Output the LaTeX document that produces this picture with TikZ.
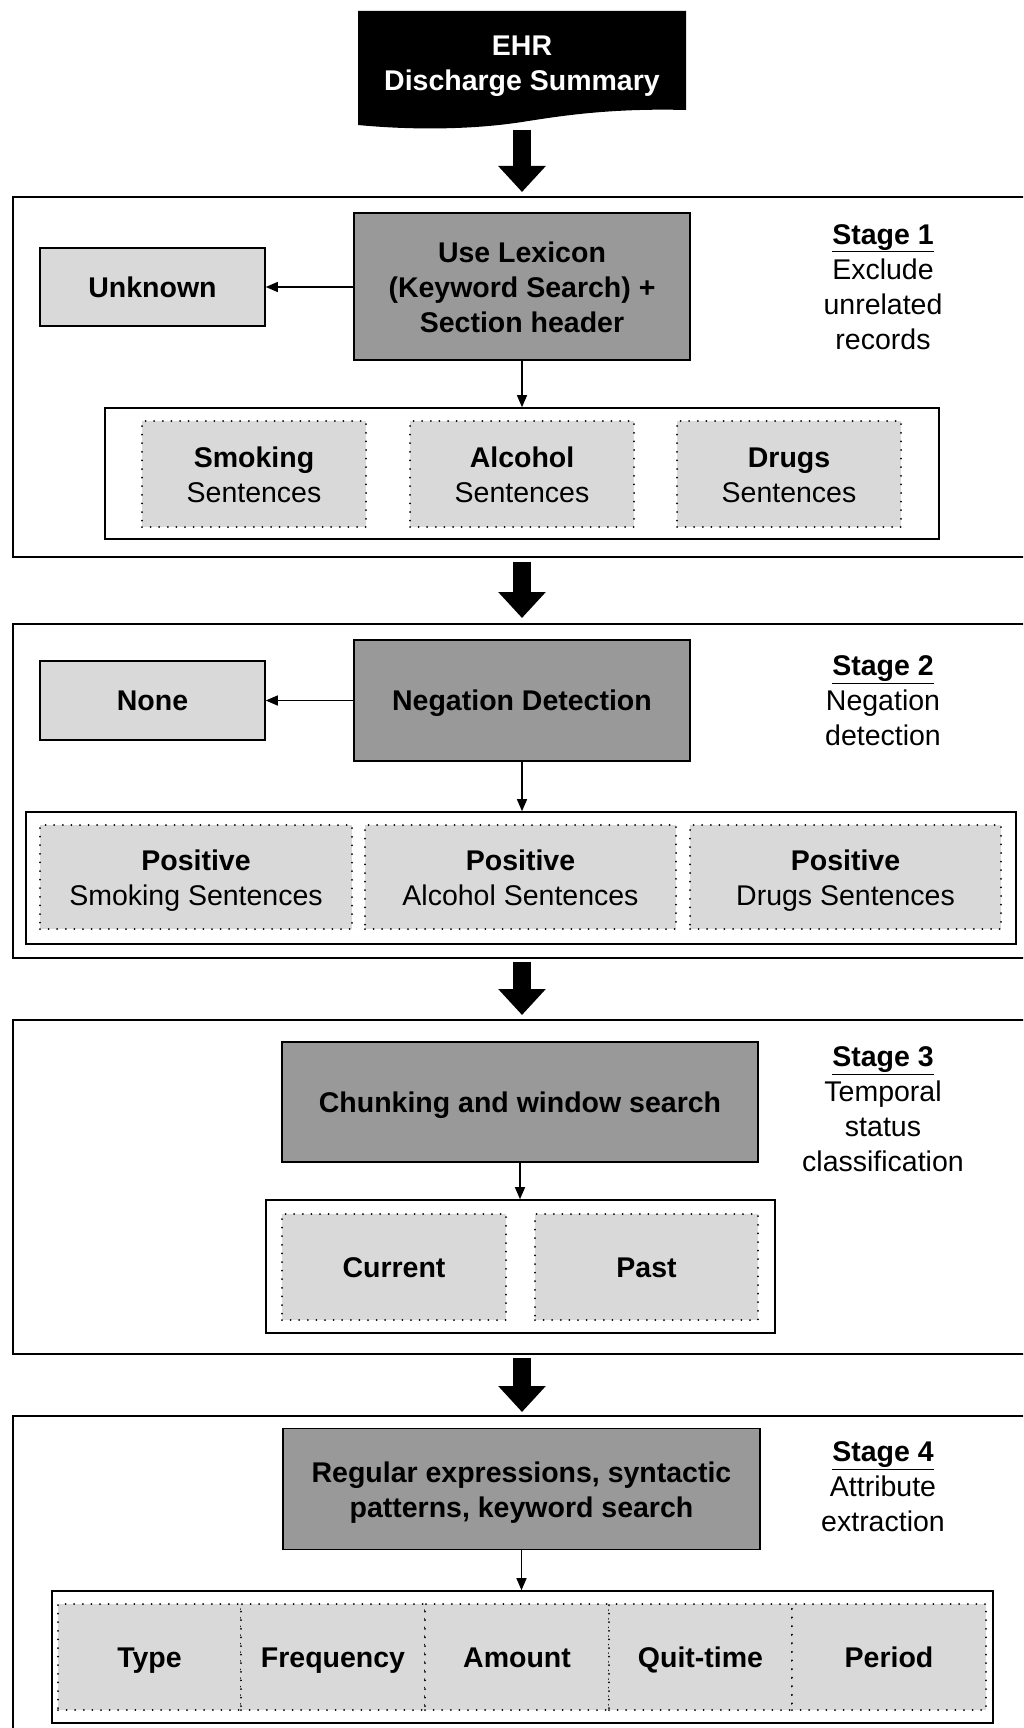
\documentclass[tikz,border=0pt]{standalone}
\usepackage{fontspec}
\setmainfont{Liberation Sans}
\usetikzlibrary{arrows.meta}
\definecolor{darkbox}{HTML}{999999}
\definecolor{lightbox}{HTML}{D9D9D9}
\newcommand{\topstrut}{\rule{0pt}{27pt}}
\newcommand{\mlt}{\rule{0pt}{29.5pt}}
\newcommand{\mlb}{\rule[-7pt]{0pt}{7pt}}
\newcommand{\botstrut}{\rule[-7pt]{0pt}{7pt}}
\tikzset{
  txt/.style={font=\fontsize{28.5}{35}\selectfont, align=center, inner sep=0pt},
  sl/.style={execute at begin node=\topstrut, execute at end node=\botstrut},
  stagebox/.style={draw=black, line width=2pt, fill=none, inner sep=0pt},
  darkbox/.style={txt, draw=black, line width=1.6pt, fill=darkbox, font=\fontsize{28.5}{35}\selectfont\bfseries},
  lightbox/.style={txt, draw=black, line width=1.5pt, fill=lightbox, font=\fontsize{28.5}{35}\selectfont\bfseries},
  holder/.style={draw=black, line width=1.6pt, fill=white, inner sep=0pt},
  dotbox/.style={txt, draw=black, line width=2pt, line cap=round, dash pattern=on 0pt off 8.6pt, fill=lightbox},
  thinarrow/.style={draw=black, line width=1.3pt, -{Triangle[length=12pt,width=10pt]}},
  bigarrow/.style={draw=black, line width=18pt, -{Triangle[length=26pt,width=46pt]}},
  stagetxt/.style={txt}
}
\begin{document}
\begin{tikzpicture}[x=1pt,y=-1pt]
\useasboundingbox (0,0) rectangle (1023,1728);
\clip (0,0) rectangle (1023,1728);
\fill[white] (0,0) rectangle (1023,1728);

% EHR document shape
\fill[black] (358,11) -- (686,11) -- (686,110)
  .. controls (610,108) and (560,116) .. (522,122)
  .. controls (470,130) and (410,130) .. (358,125) -- cycle;
\node[txt, text=white, font=\fontsize{28.5}{35}\selectfont\bfseries] (ehr) at (522,61.5) {\mlt EHR\\Discharge Summary\mlb};
\coordinate (ehrb) at (522,126);

% Stage boxes
\node[stagebox, minimum width=1020pt, minimum height=360pt, anchor=north west] (s1) at (12,196) {};
\node[stagebox, minimum width=1020pt, minimum height=334pt, anchor=north west] (s2) at (12,623) {};
\node[stagebox, minimum width=1020pt, minimum height=334pt, anchor=north west] (s3) at (12,1019) {};
\node[stagebox, minimum width=1020pt, minimum height=330pt, anchor=north west] (s4) at (12,1415) {};

% Big arrows
\draw[bigarrow, shorten <=4pt, shorten >=4pt] (ehrb) -- (ehrb |- s1.north);
\draw[bigarrow, shorten <=4pt, shorten >=5pt] (s1.south -| ehrb) -- (s2.north -| ehrb);
\draw[bigarrow, shorten <=3pt, shorten >=4pt] (s2.south -| ehrb) -- (s3.north -| ehrb);
\draw[bigarrow, shorten <=3pt, shorten >=3pt] (s3.south -| ehrb) -- (s4.north -| ehrb);

% ---------- Stage 1
\node[darkbox, minimum width=336pt, minimum height=147pt] (lex) at (522,286.5) {\mlt Use Lexicon\\(Keyword Search) +\\Section header\mlb};
\node[lightbox, sl, minimum width=225pt, minimum height=78pt] (unk) at (152.5,287) {Unknown};
\node[holder, minimum width=834pt, minimum height=131pt] (h1) at (522,473.5) {};
\node[dotbox, minimum width=224pt, minimum height=106pt] (smk) at (254,474) {\mlt\textbf{Smoking}\\Sentences\mlb};
\node[dotbox, minimum width=224pt, minimum height=106pt] (alc) at (522,474) {\mlt\textbf{Alcohol}\\Sentences\mlb};
\node[dotbox, minimum width=224pt, minimum height=106pt] (drg) at (789,474) {\mlt\textbf{Drugs}\\Sentences\mlb};
\draw[thinarrow] (lex.west |- unk.east) -- (unk.east);
\draw[thinarrow] (lex.south) -- (h1.north);
\node[stagetxt] (st1) at (883,285.5) {\mlt\textbf{\underline{Stage 1}}\\Exclude\\unrelated\\records\mlb};

% ---------- Stage 2
\node[darkbox, sl, minimum width=336pt, minimum height=121pt] (neg) at (522,700.5) {Negation Detection};
\node[lightbox, sl, minimum width=225pt, minimum height=79pt] (none) at (152.5,700.5) {None};
\node[holder, minimum width=990pt, minimum height=132pt] (h2) at (521,878) {};
\node[dotbox, minimum width=312pt, minimum height=104pt] (psm) at (196,877) {\mlt\textbf{Positive}\\Smoking Sentences\mlb};
\node[dotbox, minimum width=311pt, minimum height=104pt] (pal) at (520.5,877) {\mlt\textbf{Positive}\\Alcohol Sentences\mlb};
\node[dotbox, minimum width=311pt, minimum height=104pt] (pdr) at (845.5,877) {\mlt\textbf{Positive}\\Drugs Sentences\mlb};
\draw[thinarrow] (neg.west |- none.east) -- (none.east);
\draw[thinarrow] (neg.south) -- (neg.south |- h2.north);
\node[stagetxt] (st2) at (883,699.5) {\mlt\textbf{\underline{Stage 2}}\\Negation\\detection\mlb};

% ---------- Stage 3
\node[darkbox, sl, minimum width=476pt, minimum height=120pt] (chk) at (520,1102) {Chunking and window search};
\node[holder, minimum width=509pt, minimum height=133pt] (h3) at (520.5,1266.5) {};
\node[dotbox, sl, minimum width=224pt, minimum height=106pt, font=\fontsize{28.5}{35}\selectfont\bfseries] (cur) at (394,1267) {Current};
\node[dotbox, sl, minimum width=223pt, minimum height=106pt, font=\fontsize{28.5}{35}\selectfont\bfseries] (pst) at (646.5,1267) {Past};
\draw[thinarrow] (chk.south) -- (h3.north -| chk.south);
\node[stagetxt] (st3) at (883,1107.5) {\mlt\textbf{\underline{Stage 3}}\\Temporal\\status\\classification\mlb};

% ---------- Stage 4
\node[darkbox, minimum width=477pt, minimum height=121pt] (reg) at (521.5,1489) {\mlt Regular expressions, syntactic\\patterns, keyword search\mlb};
\node[holder, minimum width=941pt, minimum height=132pt] (h4) at (522.5,1657) {};
\node[dotbox, sl, minimum width=183pt, minimum height=106pt, font=\fontsize{28.5}{35}\selectfont\bfseries] (typ) at (149.5,1657) {Type};
\node[dotbox, sl, minimum width=184pt, minimum height=106pt, font=\fontsize{28.5}{35}\selectfont\bfseries] (frq) at (333,1657) {Frequency};
\node[dotbox, sl, minimum width=184pt, minimum height=106pt, font=\fontsize{28.5}{35}\selectfont\bfseries] (amt) at (517,1657) {Amount};
\node[dotbox, sl, minimum width=183pt, minimum height=106pt, font=\fontsize{28.5}{35}\selectfont\bfseries] (qt) at (700.5,1657) {Quit-time};
\node[dotbox, sl, minimum width=194pt, minimum height=106pt, font=\fontsize{28.5}{35}\selectfont\bfseries] (per) at (889,1657) {Period};
\draw[thinarrow] (reg.south) -- (h4.north -| reg.south);
\node[stagetxt] (st4) at (883,1485.5) {\mlt\textbf{\underline{Stage 4}}\\Attribute\\extraction\mlb};
\end{tikzpicture}
\end{document}
